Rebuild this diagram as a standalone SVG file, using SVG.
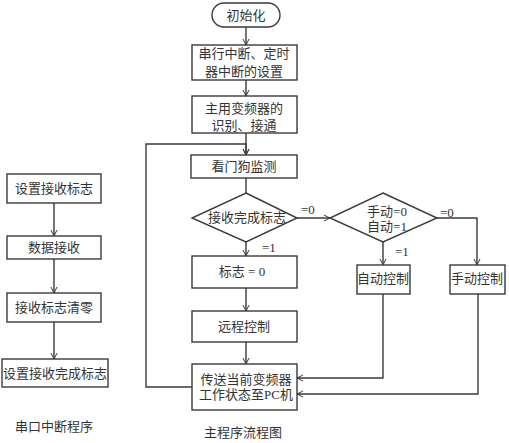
<svg xmlns="http://www.w3.org/2000/svg" width="509" height="443" viewBox="0 0 509 443">
<defs>
<style>
.b{fill:#fff;stroke:#3a3a3a;stroke-width:1.4}
.c{fill:none;stroke:#3a3a3a;stroke-width:1.4}
text{font-family:"Liberation Serif","Noto Sans CJK SC",serif;font-size:13px;fill:#333;text-anchor:middle}
.l{text-anchor:start}
</style>
<marker id="a" markerWidth="8" markerHeight="8" refX="7" refY="4" orient="auto" markerUnits="userSpaceOnUse">
<path d="M1,1 L7,4 L1,7" fill="none" stroke="#3a3a3a" stroke-width="1"/>
</marker>
</defs>
<g id="connectors">
<path class="c" d="M54,203 V236" marker-end="url(#a)"/>
<path class="c" d="M54,259 V293" marker-end="url(#a)"/>
<path class="c" d="M54,322 V359" marker-end="url(#a)"/>
<path class="c" d="M246,27 V45" marker-end="url(#a)"/>
<path class="c" d="M246,80 V96" marker-end="url(#a)"/>
<path class="c" d="M246,133 V155" marker-end="url(#a)"/>
<path class="c" d="M192,387 H146 V144 H246 V155" marker-end="url(#a)"/>
<path class="c" d="M246,178 V193"/>
<path class="c" d="M297,218 H330" marker-end="url(#a)"/>
<path class="c" d="M246,242 V256" marker-end="url(#a)"/>
<path class="c" d="M246,288 V311" marker-end="url(#a)"/>
<path class="c" d="M246,342 V364" marker-end="url(#a)"/>
<path class="c" d="M383,242 V265" marker-end="url(#a)"/>
<path class="c" d="M437,218 H477 V265" marker-end="url(#a)"/>
<path class="c" d="M383,294 V378 H297" marker-end="url(#a)"/>
<path class="c" d="M478,294 V394 H297" marker-end="url(#a)"/>
<text class="l" x="301" y="214">=0</text>
<text class="l" x="262" y="252">=1</text>
<text class="l" x="440" y="217">=0</text>
<text class="l" x="395" y="256">=1</text>
</g>
<g id="s1"><rect class="b" x="7" y="174" width="94" height="29"/><text x="54" y="193">设置接收标志</text></g>
<g id="s2"><rect class="b" x="7" y="236" width="94" height="23"/><text x="54" y="252">数据接收</text></g>
<g id="s3"><rect class="b" x="7" y="293" width="94" height="29"/><text x="54" y="312">接收标志清零</text></g>
<g id="s4"><rect class="b" x="2" y="359" width="106" height="28"/><text x="55" y="378">设置接收完成标志</text></g>
<g id="cap1"><text x="54" y="431">串口中断程序</text></g>
<g id="init"><rect class="b" x="212" y="3" width="68" height="24" rx="12"/><text x="246" y="20">初始化</text></g>
<g id="m1"><rect class="b" x="192" y="45" width="105" height="35"/><text x="244" y="58">串行中断、定时</text><text x="244" y="76">器中断的设置</text></g>
<g id="m2"><rect class="b" x="192" y="96" width="105" height="37"/><text x="244" y="113">主用变频器的</text><text x="244" y="130">识别、接通</text></g>
<g id="m3"><rect class="b" x="191" y="155" width="106" height="23"/><text x="244" y="171">看门狗监测</text></g>
<g id="d1"><polygon class="b" points="246,193 297,218 246,242 192,218"/><text x="247" y="222">接收完成标志</text></g>
<g id="m4"><rect class="b" x="192" y="256" width="105" height="32"/><text x="242" y="276">标志 = 0</text></g>
<g id="m5"><rect class="b" x="192" y="311" width="105" height="31"/><text x="244" y="331">远程控制</text></g>
<g id="m6"><rect class="b" x="192" y="364" width="105" height="46"/><text x="246" y="384">传送当前变频器</text><text x="246" y="399">工作状态至PC机</text></g>
<g id="d2"><polygon class="b" points="383,193 437,218 383,242 330,218"/><text x="387" y="216">手动=0</text><text x="387" y="231">自动=1</text></g>
<g id="auto"><rect class="b" x="357" y="265" width="53" height="29"/><text x="383" y="283">自动控制</text></g>
<g id="manual"><rect class="b" x="450" y="265" width="55" height="29"/><text x="477" y="283">手动控制</text></g>
<g id="cap2"><text x="243" y="437">主程序流程图</text></g>
</svg>
